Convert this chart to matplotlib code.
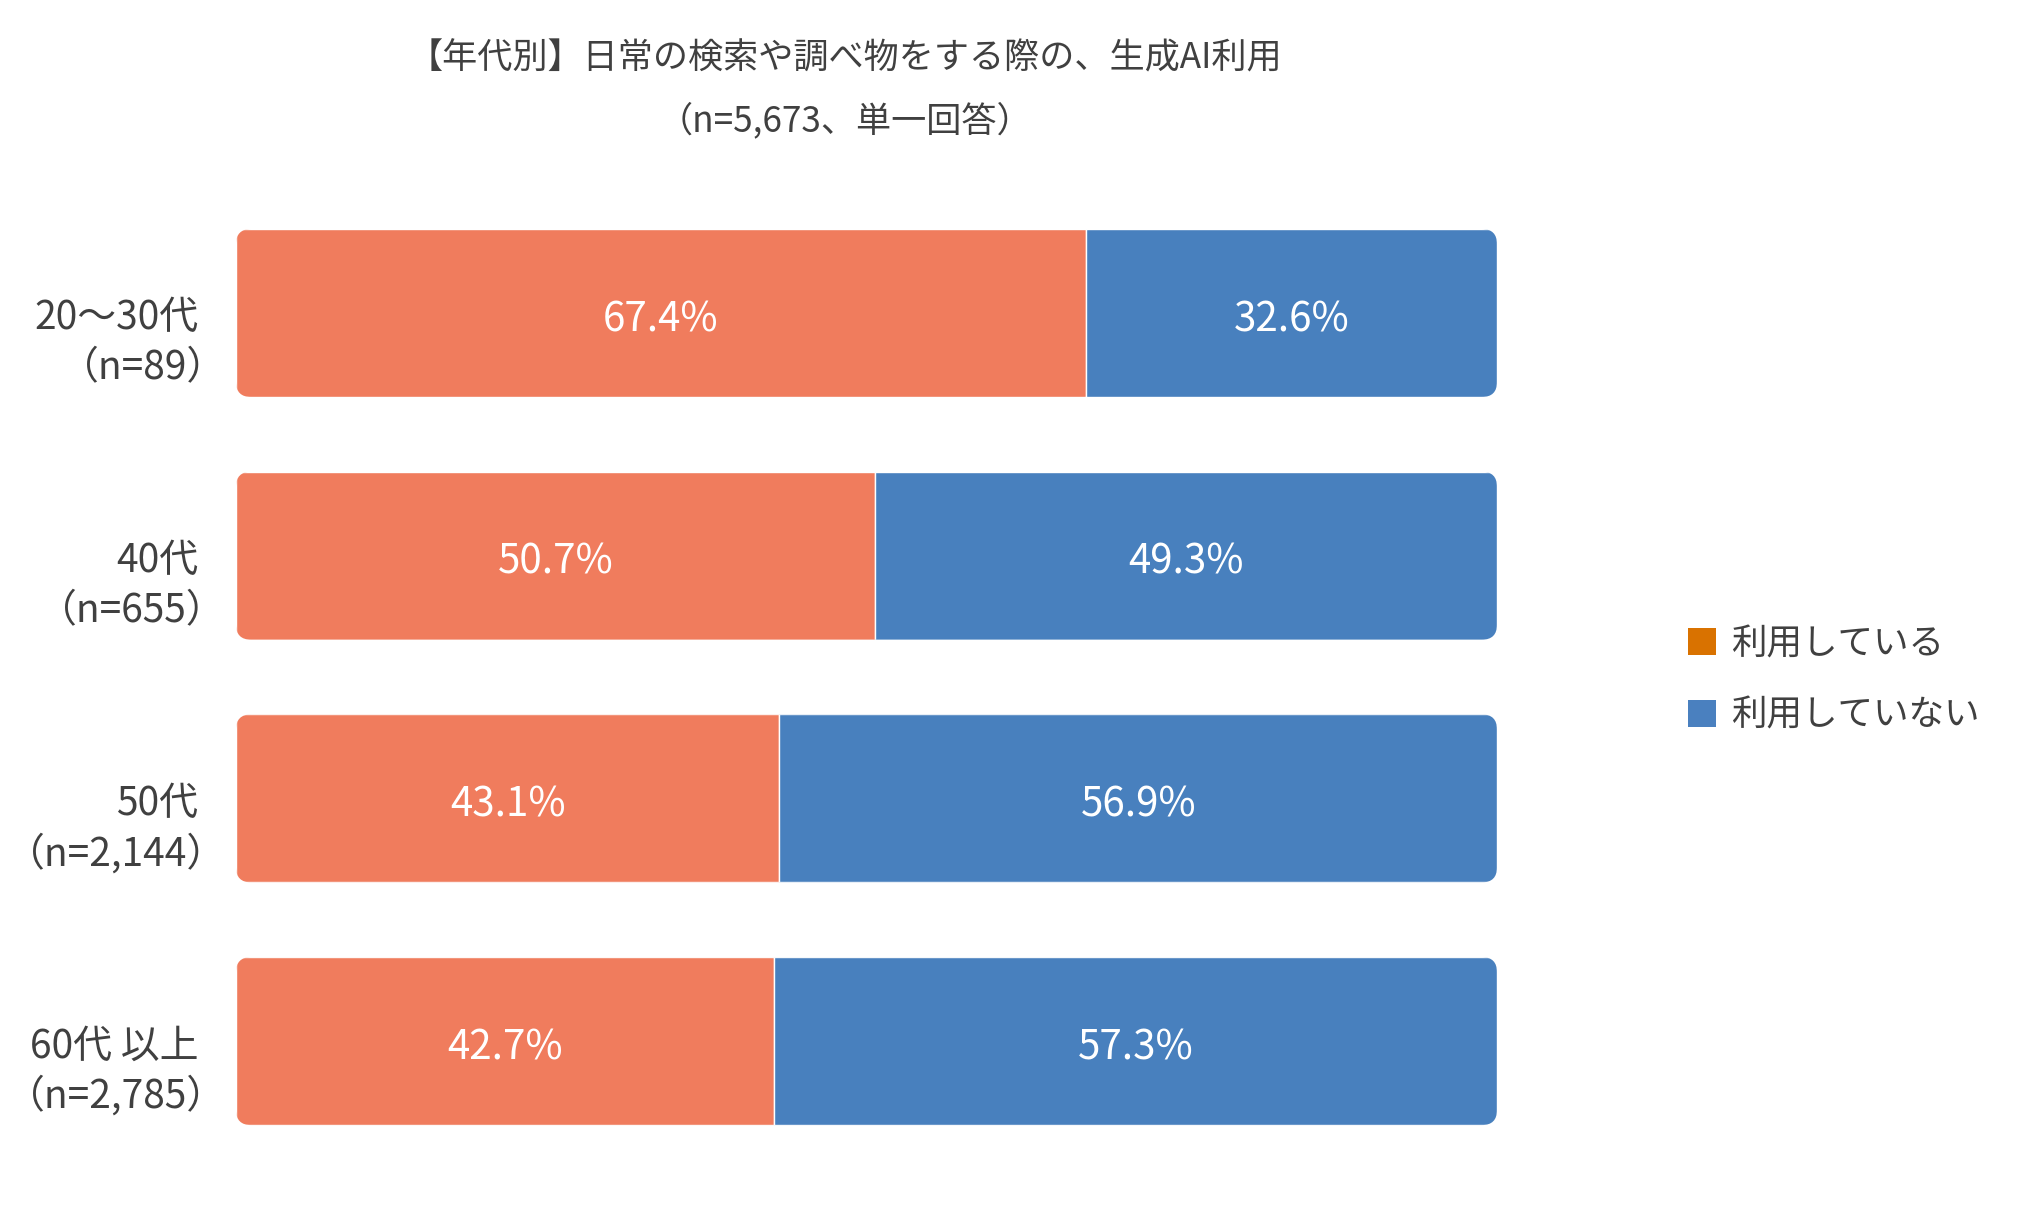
import matplotlib
matplotlib.use("Agg")
import matplotlib.pyplot as plt
from matplotlib.patches import FancyBboxPatch, Patch

plt.rcParams['font.family'] = ['Noto Sans CJK JP', 'DejaVu Sans']

categories = ["20～30代", "40代", "50代", "60代 以上"]
sample_sizes = ["（n=89）", "（n=655）", "（n=2,144）", "（n=2,785）"]
using = [67.4, 50.7, 43.1, 42.7]
not_using = [32.6, 49.3, 56.9, 57.3]
series_names = ["利用している", "利用していない"]
title_lines = ["【年代別】日常の検索や調べ物をする際の、生成AI利用", "（n=5,673、単一回答）"]

C_ORANGE = "#F07C5D"
C_BLUE = "#4880BE"
C_LEG_ORANGE = "#D97200"
C_LEG_BLUE = "#4A80BF"
TXT = "#404040"

W, H = 2036, 1210
SP = 242.7  # px per category
fig = plt.figure(figsize=(W / 100, H / 100), dpi=100)
ax_top = 313 - SP / 2
ax_h = 4 * SP
ax = fig.add_axes([236 / W, 1 - (ax_top + ax_h) / H, 1261 / W, ax_h / H])
ax.set_xlim(0, 100)
ax.set_ylim(3.5, -0.5)
ax.axis("off")

bh = 168 / SP
ypos = list(range(len(categories)))
b1 = ax.barh(ypos, using, height=bh, color=C_ORANGE, edgecolor="white", linewidth=1)
b2 = ax.barh(ypos, not_using, left=using, height=bh, color=C_BLUE, edgecolor="white", linewidth=1)

# rounded outer corners via clipping
r_x = 1.2
aspect = (1261 / 100) / SP
for i, y in enumerate(ypos):
    total = using[i] + not_using[i]
    clip = FancyBboxPatch((0, y - bh / 2), total, bh,
                          boxstyle=f"round,pad=0,rounding_size={r_x}",
                          mutation_aspect=aspect, transform=ax.transData)
    b1[i].set_clip_path(clip)
    b2[i].set_clip_path(clip)
    ax.text(using[i] / 2, y + 0.027, f"{using[i]:.1f}%", ha="center", va="center",
            color="white", fontsize=29)
    ax.text(using[i] + not_using[i] / 2, y + 0.027, f"{not_using[i]:.1f}%", ha="center",
            va="center", color="white", fontsize=29)
    ax.text(-3.0, y + 0.022, categories[i], ha="right", va="center", color=TXT,
            fontsize=28, clip_on=False)
    ax.text(-0.8, y + 0.228, sample_sizes[i], ha="right", va="center", color=TXT,
            fontsize=28, clip_on=False)

fig.text(845 / W, 1 - 58 / H, title_lines[0], ha="center", va="center", color=TXT, fontsize=25.3)
fig.text(845 / W, 1 - 121 / H, title_lines[1], ha="center", va="center", color=TXT, fontsize=25.3)

handles = [Patch(facecolor=C_LEG_ORANGE), Patch(facecolor=C_LEG_BLUE)]
fig.legend(handles, series_names, loc="center left", bbox_to_anchor=(1656 / W, 1 - 680 / H),
           frameon=False, fontsize=25.6, handlelength=0.8, handleheight=0.8,
           handletextpad=0.4, labelspacing=1.0, labelcolor=TXT)

fig.savefig("out.png", dpi=100, facecolor="white")
